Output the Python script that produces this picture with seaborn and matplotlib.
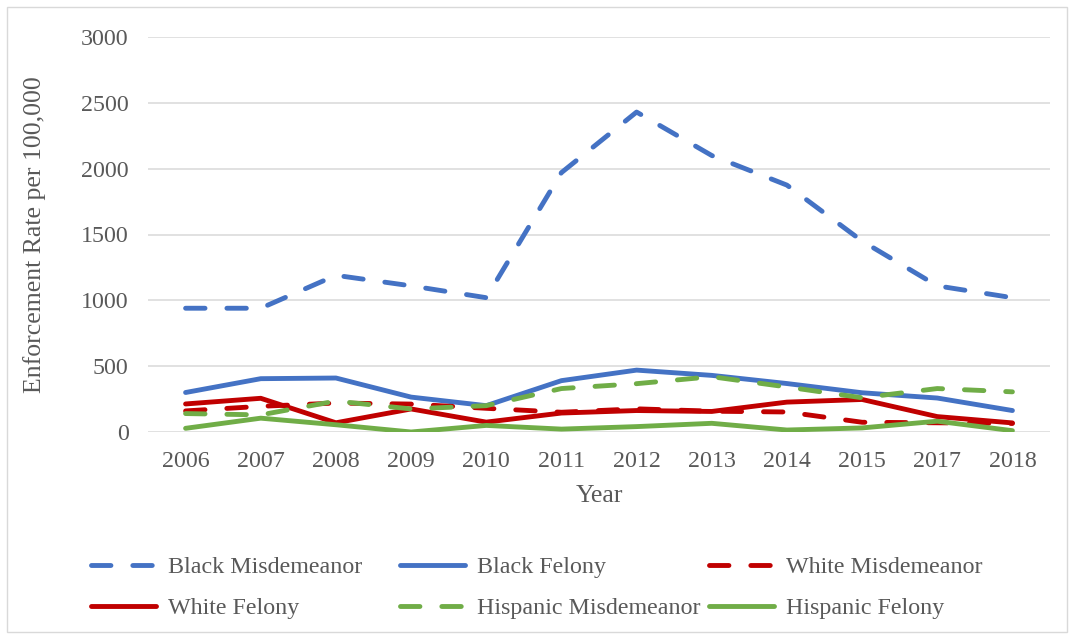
import matplotlib
matplotlib.use("Agg")
import matplotlib.pyplot as plt
from matplotlib.lines import Line2D
from matplotlib.patches import Rectangle
import seaborn as sns
import pandas as pd

# Enforcement rates per 100,000 residents, by group and offense level
years = ['2006', '2007', '2008', '2009', '2010', '2011', '2012', '2013', '2014', '2015', '2017', '2018']
black_misdemeanor = [940, 940, 1190, 1110, 1020, 1970, 2430, 2100, 1875, 1450, 1110, 1020]
black_felony = [300, 405, 410, 265, 200, 390, 470, 430, 368, 298, 258, 163]
white_misdemeanor = [160, 195, 220, 212, 180, 150, 176, 158, 152, 74, 70, 65]
white_felony = [213, 256, 70, 175, 75, 144, 163, 156, 227, 247, 117, 69]
hispanic_misdemeanor = [140, 130, 235, 175, 200, 330, 367, 420, 342, 260, 330, 305]
hispanic_felony = [28, 105, 55, 0, 50, 22, 41, 66, 15, 31, 82, 10]

series_names = ['Black Misdemeanor', 'Black Felony', 'White Misdemeanor',
                'White Felony', 'Hispanic Misdemeanor', 'Hispanic Felony']
series_values = [black_misdemeanor, black_felony, white_misdemeanor,
                 white_felony, hispanic_misdemeanor, hispanic_felony]

BLUE, RED, GREEN = '#4472C4', '#C00000', '#70AD47'
palette = dict(zip(series_names, [BLUE, BLUE, RED, RED, GREEN, GREEN]))
dash_on_off = (4, 4.5)
dashes = dict(zip(series_names, [dash_on_off, '', dash_on_off, '', dash_on_off, '']))

rows = []
for name, vals in zip(series_names, series_values):
    for yr, v in zip(years, vals):
        rows.append({'Year': yr, 'Rate': v, 'Series': name})
df = pd.DataFrame(rows)

sns.set_theme(style='white')
plt.rcParams['font.family'] = ['Liberation Serif', 'DejaVu Serif']
TEXT = '#595959'

fig = plt.figure(figsize=(10.74, 6.39), dpi=100)
ax = fig.add_axes([148 / 1074, 1 - 432 / 639, 902 / 1074, 395 / 639])

sns.lineplot(data=df, x='Year', y='Rate', hue='Series', style='Series',
             hue_order=series_names, style_order=series_names,
             palette=palette, dashes=dashes, linewidth=3.5,
             sort=False, legend=False, ax=ax)

series_lines = ax.get_lines()[:len(series_names)]
for ln in series_lines:
    ln.set_dash_capstyle('round')
    ln.set_solid_capstyle('round')
    ln.set_solid_joinstyle('round')
    ln.set_dash_joinstyle('round')

ax.set_xlim(-0.5, len(years) - 0.5)
ax.set_ylim(0, 3000)
ax.set_yticks(range(0, 3001, 500))
ax.yaxis.grid(True, color='#D9D9D9', linewidth=1.1)
ax.xaxis.grid(False)
ax.set_axisbelow(True)
for sp in ax.spines.values():
    sp.set_visible(False)
ax.tick_params(axis='both', length=0, labelsize=17.3, colors=TEXT)
ax.tick_params(axis='y', pad=14)
ax.tick_params(axis='x', pad=14)

ax.set_xlabel('Year', fontsize=18.5, color=TEXT)
ax.set_ylabel('Enforcement Rate per 100,000', fontsize=18.5, color=TEXT)
ax.xaxis.set_label_coords(0.5, -0.135)
ax.yaxis.set_label_coords(-0.113, 0.5)

# Legend: three fixed-width columns, two rows
col_x = [91, 400, 709]
row_y = [567, 608]
for i, (name, ln) in enumerate(zip(series_names, series_lines)):
    r, c = divmod(i, 3)
    h = Line2D([], [], color=ln.get_color(), linewidth=3.5,
               linestyle=ln.get_linestyle(), dash_capstyle='round',
               solid_capstyle='round')
    if ln.get_linestyle() != '-':
        h.set_dashes(dash_on_off)
    fig.legend([h], [name], loc='center left',
               bbox_to_anchor=(col_x[c] / 1074, 1 - row_y[r] / 639),
               frameon=False, fontsize=17.3, handlelength=2.7,
               handletextpad=0.5, borderpad=0, borderaxespad=0,
               labelcolor=TEXT)

# Chart border
fig.patches.append(Rectangle((7 / 1074, 7 / 639), 1 - 14 / 1074, 1 - 14 / 639,
                             transform=fig.transFigure, fill=False,
                             edgecolor='#D9D9D9', linewidth=1.0))

fig.savefig('out.png', dpi=100, facecolor='white')
